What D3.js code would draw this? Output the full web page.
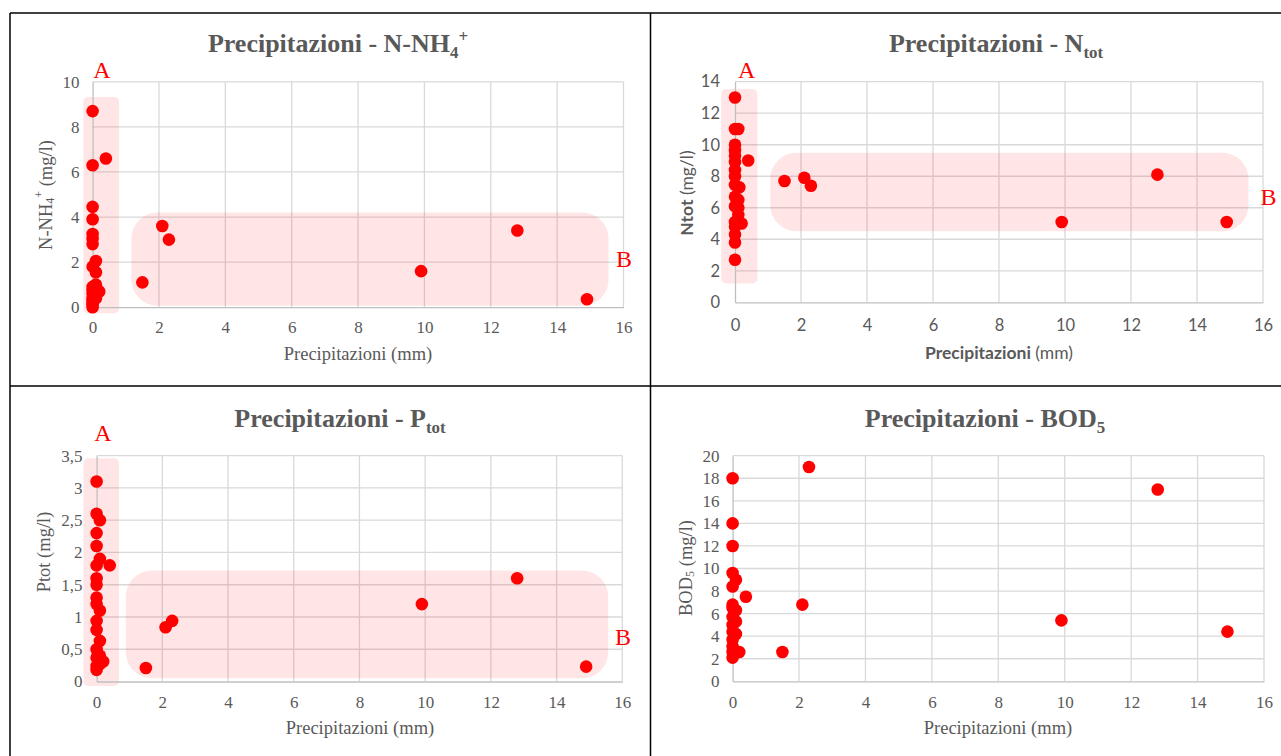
<!DOCTYPE html>
<html><head><meta charset="utf-8">
<script src="https://cdn.jsdelivr.net/npm/d3@7/dist/d3.min.js"></script>
<style>body{margin:0;background:#fff}svg{display:block}</style>
</head><body>
<script>
// ---------- DATA ----------
const xTicks = [0, 2, 4, 6, 8, 10, 12, 14, 16];
const xTickLabels = ["0", "2", "4", "6", "8", "10", "12", "14", "16"];

// N-NH4+ (mg/l) vs precipitation (mm)
const nh4Precip = [0, 0.4, 0, 0, 0, 0, 0, 0, 0.1, 0, 0.1, 0.1, 0, 0.2, 0, 0.1, 0, 0, 0.1, 0, 0, 0, 0, 0.05,
                   1.5, 2.1, 2.3, 9.9, 12.8, 14.9];
const nh4Values = [8.7, 6.6, 6.3, 4.45, 3.9, 3.25, 3.05, 2.8, 2.05, 1.8, 1.55, 1.0, 0.9, 0.7, 0.75, 0.5, 0.6, 0.4, 0.4, 0.3, 0.2, 0.1, 0.0, 0.85,
                   1.1, 3.6, 3.0, 1.6, 3.4, 0.35];
const nh4YTicks = [0, 2, 4, 6, 8, 10];
const nh4YTickLabels = ["0", "2", "4", "6", "8", "10"];

// Ntot (mg/l)
const ntotPrecip = [0, 0, 0.1, 0, 0, 0, 0, 0.4, 0, 0, 0, 0.13, 0, 0.1, 0, 0.1, 0.1, 0, 0.2, 0, 0, 0, 0,
                    1.5, 2.1, 2.3, 9.9, 12.8, 14.9];
const ntotValues = [13, 11, 11, 10, 9.65, 9.3, 8.9, 9.0, 8.4, 8.0, 7.45, 7.3, 6.7, 6.5, 6.1, 6.0, 5.55, 5.1, 5.0, 4.8, 4.3, 3.8, 2.7,
                    7.7, 7.9, 7.4, 5.1, 8.1, 5.1];
const ntotYTicks = [0, 2, 4, 6, 8, 10, 12, 14];
const ntotYTickLabels = ["0", "2", "4", "6", "8", "10", "12", "14"];

// Ptot (mg/l)
const ptotPrecip = [0, 0, 0.1, 0, 0, 0.1, 0, 0.4, 0, 0, 0, 0, 0.1, 0, 0, 0.1, 0, 0, 0.1, 0.2, 0, 0.1, 0,
                    1.5, 2.1, 2.3, 9.9, 12.8, 14.9];
const ptotValues = [3.1, 2.6, 2.5, 2.3, 2.1, 1.9, 1.8, 1.8, 1.6, 1.5, 1.3, 1.2, 1.1, 0.94, 0.8, 0.63, 0.5, 0.37, 0.4, 0.31, 0.24, 0.27, 0.18,
                    0.21, 0.84, 0.94, 1.2, 1.6, 0.23];
const ptotYTicks = [0, 0.5, 1, 1.5, 2, 2.5, 3, 3.5];
const ptotYTickLabels = ["0", "0,5", "1", "1,5", "2", "2,5", "3", "3,5"];

// BOD5 (mg/l)
const bodPrecip = [0, 0, 0, 0, 0.1, 0, 0.4, 0, 0, 0.1, 0, 0.1, 0, 0, 0.1, 0, 0, 0, 0.2, 0,
                   1.5, 2.1, 2.3, 9.9, 12.8, 14.9];
const bodValues = [18, 14, 12, 9.6, 9.0, 8.4, 7.5, 6.8, 6.5, 6.3, 5.7, 5.3, 5.0, 4.4, 4.2, 3.7, 3.1, 2.6, 2.6, 2.1,
                   2.6, 6.8, 19, 5.4, 17, 4.4];
const bodYTicks = [0, 2, 4, 6, 8, 10, 12, 14, 16, 18, 20];
const bodYTickLabels = ["0", "2", "4", "6", "8", "10", "12", "14", "16", "18", "20"];

// Highlighted groups (data units: [xMin, xMax, yMin, yMax])
const nh4GroupA = [-0.28, 0.80, -0.27, 9.33];
const nh4GroupB = [1.17, 15.55, 0.06, 4.2];
const ntotGroupA = [-0.42, 0.68, 1.2, 13.53];
const ntotGroupB = [1.07, 15.56, 4.51, 9.49];
const ptotGroupA = [-0.40, 0.68, -0.07, 3.46];
const ptotGroupB = [0.89, 15.57, 0.05, 1.72];

// ---------- DRAWING ----------
const W = 1281, H = 756;
const svg = d3.select("body").append("svg").attr("width", W).attr("height", H);

const SERIF = "'Liberation Serif','Times New Roman',serif";
const SANS = "Lato,'Open Sans','Liberation Sans',sans-serif";
const GRAY = "#595959";

function richText(sel, parts, size) {
  parts.forEach(p => {
    const t = sel.append("tspan").text(p.t);
    if (p.bold) t.attr("font-weight", "bold");
    if (p.sub) t.attr("font-size", size * 0.65).attr("dy", size * 0.22);
    if (p.sup) t.attr("font-size", size * 0.65).attr("dy", -size * 0.6);
    if (p.reset) t.attr("dy", p.reset);
    if (p.dx) t.attr("dx", p.dx);
  });
}

function drawPanel(c) {
  const g = svg.append("g");
  const x = d3.scaleLinear().domain([0, 16]).range([c.x0, c.x1]);
  const y = d3.scaleLinear().domain([0, c.yMax]).range([c.y0, c.y1]);

  // gridlines
  g.append("g").selectAll("line.v").data(xTicks.slice(1)).join("line")
    .attr("x1", d => x(d)).attr("x2", d => x(d))
    .attr("y1", y(0)).attr("y2", y(c.yMax))
    .attr("stroke", "#d9d9d9").attr("stroke-width", 1.3);
  g.append("g").selectAll("line.h").data(c.yTicks.slice(1)).join("line")
    .attr("x1", x(0)).attr("x2", x(16))
    .attr("y1", d => y(d)).attr("y2", d => y(d))
    .attr("stroke", "#d9d9d9").attr("stroke-width", 1.3);

  // highlighted areas
  (c.groups || []).forEach(gr => {
    g.append("rect")
      .attr("x", x(gr.r[0])).attr("width", x(gr.r[1]) - x(gr.r[0]))
      .attr("y", y(gr.r[3])).attr("height", y(gr.r[2]) - y(gr.r[3]))
      .attr("rx", gr.rx).attr("ry", gr.rx)
      .attr("fill", "#ff0000").attr("fill-opacity", 0.1);
  });

  // axes
  const xAxis = d3.axisBottom(x).tickValues(xTicks).tickFormat((d, i) => xTickLabels[i])
    .tickSize(0).tickPadding(c.xPad);
  const yAxis = d3.axisLeft(y).tickValues(c.yTicks).tickFormat((d, i) => c.yLabels[i])
    .tickSize(0).tickPadding(c.yPad);
  const gx = g.append("g").attr("transform", `translate(0,${y(0)})`).call(xAxis);
  const gy = g.append("g").attr("transform", `translate(${x(0)},0)`).call(yAxis);
  [gx, gy].forEach(a => {
    a.select(".domain").attr("stroke", "#bfbfbf").attr("stroke-width", 1.3);
    a.selectAll("text").attr("fill", GRAY).attr("font-family", c.tickFont).attr("font-size", c.tickSize);
  });

  // points
  g.append("g").selectAll("circle").data(c.xs.map((v, i) => [v, c.ys[i]])).join("circle")
    .attr("cx", d => x(d[0])).attr("cy", d => y(d[1])).attr("r", 6.3)
    .attr("fill", "#ff0000");

  // title
  const t = g.append("text").attr("x", c.titleX).attr("y", c.titleY)
    .attr("text-anchor", "middle").attr("font-family", SERIF).attr("font-weight", "bold")
    .attr("font-size", 26).attr("fill", GRAY);
  richText(t, c.title, 26);

  // x axis title
  const xt = g.append("text").attr("x", c.xtX).attr("y", c.xtY)
    .attr("text-anchor", "middle").attr("font-family", c.labelFont)
    .attr("font-size", c.labelSize).attr("fill", GRAY);
  richText(xt, c.xTitle, c.labelSize);

  // y axis title
  const yt = g.append("text").attr("transform", `translate(${c.ytX},${c.ytY}) rotate(-90)`)
    .attr("text-anchor", "middle").attr("dominant-baseline", "central")
    .attr("font-family", c.labelFont).attr("font-size", c.labelSize).attr("fill", GRAY);
  richText(yt, c.yTitle, c.labelSize);

  // group letters
  (c.letters || []).forEach(L => {
    g.append("text").attr("x", L.x).attr("y", L.y).text(L.t)
      .attr("text-anchor", "middle").attr("dominant-baseline", "central")
      .attr("font-family", SERIF).attr("font-size", 24).attr("fill", "#ff0000");
  });
}

drawPanel({
  x0: 92.6, x1: 623.5, y0: 307.2, y1: 81.8, yMax: 10,
  xs: nh4Precip, ys: nh4Values, yTicks: nh4YTicks, yLabels: nh4YTickLabels,
  tickFont: SERIF, tickSize: 17, xPad: 14, yPad: 13,
  labelFont: SERIF, labelSize: 18.5,
  title: [{t: "Precipitazioni - N-NH"}, {t: "4", sub: true}, {t: "+", sup: true, dx: 0}],
  titleX: 338, titleY: 52,
  xTitle: [{t: "Precipitazioni (mm)"}], xtX: 358, xtY: 360,
  yTitle: [{t: "N-NH"}, {t: "4", sub: true}, {t: "+", sup: true}, {t: " (mg/l)", reset: 18.5 * 0.38}],
  ytX: 46, ytY: 195,
  groups: [{r: nh4GroupA, rx: 5}, {r: nh4GroupB, rx: 26}],
  letters: [{t: "A", x: 102, y: 70}, {t: "B", x: 624, y: 259}]
});

drawPanel({
  x0: 735, x1: 1263, y0: 302.3, y1: 81.7, yMax: 14,
  xs: ntotPrecip, ys: ntotValues, yTicks: ntotYTicks, yLabels: ntotYTickLabels,
  tickFont: SANS, tickSize: 16.5, xPad: 17, yPad: 15,
  labelFont: SANS, labelSize: 17.5,
  title: [{t: "Precipitazioni - N"}, {t: "tot", sub: true}],
  titleX: 996, titleY: 52,
  xTitle: [{t: "Precipitazioni", bold: true}, {t: " (mm)"}], xtX: 999, xtY: 359,
  yTitle: [{t: "Ntot", bold: true}, {t: " (mg/l)"}],
  ytX: 686, ytY: 193,
  groups: [{r: ntotGroupA, rx: 5}, {r: ntotGroupB, rx: 26}],
  letters: [{t: "A", x: 746.6, y: 70}, {t: "B", x: 1268.5, y: 197}]
});

drawPanel({
  x0: 96.6, x1: 622.3, y0: 681.5, y1: 455.7, yMax: 3.5,
  xs: ptotPrecip, ys: ptotValues, yTicks: ptotYTicks, yLabels: ptotYTickLabels,
  tickFont: SERIF, tickSize: 17, xPad: 14, yPad: 14,
  labelFont: SERIF, labelSize: 18.5,
  title: [{t: "Precipitazioni - P"}, {t: "tot", sub: true}],
  titleX: 340, titleY: 427,
  xTitle: [{t: "Precipitazioni (mm)"}], xtX: 360, xtY: 734,
  yTitle: [{t: "Ptot (mg/l)"}],
  ytX: 44, ytY: 552,
  groups: [{r: ptotGroupA, rx: 5}, {r: ptotGroupB, rx: 26}],
  letters: [{t: "A", x: 103, y: 433}, {t: "B", x: 623, y: 637}]
});

drawPanel({
  x0: 732.6, x1: 1264, y0: 681.3, y1: 455.7, yMax: 20,
  xs: bodPrecip, ys: bodValues, yTicks: bodYTicks, yLabels: bodYTickLabels,
  tickFont: SERIF, tickSize: 17, xPad: 15, yPad: 13,
  labelFont: SERIF, labelSize: 18.5,
  title: [{t: "Precipitazioni - BOD"}, {t: "5", sub: true}],
  titleX: 985, titleY: 427,
  xTitle: [{t: "Precipitazioni (mm)"}], xtX: 998, xtY: 734,
  yTitle: [{t: "BOD"}, {t: "5", sub: true}, {t: " (mg/l)", reset: -18.5 * 0.22}],
  ytX: 686, ytY: 568,
  groups: [], letters: []
});

// panel frames
const frame = svg.append("g").attr("stroke", "#000").attr("stroke-width", 1.5).attr("fill", "none");
frame.append("line").attr("x1", 10).attr("x2", W).attr("y1", 13).attr("y2", 13);
frame.append("line").attr("x1", 10).attr("x2", W).attr("y1", 386).attr("y2", 386);
frame.append("line").attr("x1", 10).attr("x2", 10).attr("y1", 13).attr("y2", H);
frame.append("line").attr("x1", 650.5).attr("x2", 650.5).attr("y1", 13).attr("y2", H);
</script>
</body></html>
